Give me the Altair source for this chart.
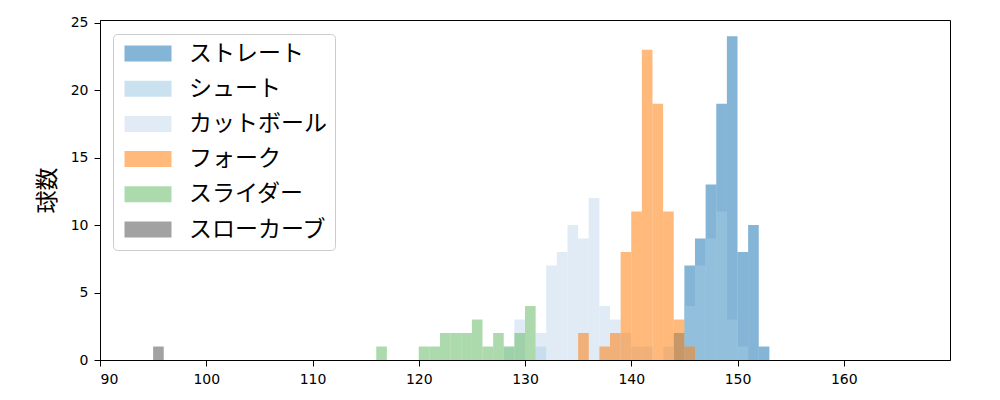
import altair as alt
import pandas as pd

# series: (name, bin starts (km/h, width 1), counts)
straight_bins = [144, 145, 146, 147, 148, 149, 150, 151, 152]
straight_cnt = [2, 7, 9, 13, 19, 24, 8, 10, 1]

shoot_bins = [131, 145, 146, 147, 148, 149, 150]
shoot_cnt = [1, 4, 7, 9, 11, 3, 1]

cut_bins = [128, 129, 131, 132, 133, 134, 135, 136, 137, 138, 139, 140, 141, 143]
cut_cnt = [1, 3, 2, 7, 8, 10, 9, 12, 4, 3, 2, 1, 1, 1]

fork_bins = [135, 137, 138, 139, 140, 141, 142, 143, 144, 145]
fork_cnt = [2, 1, 2, 8, 11, 23, 19, 11, 3, 1]

slider_bins = [116, 120, 121, 122, 123, 124, 125, 126, 127, 128, 129, 130]
slider_cnt = [1, 1, 1, 2, 2, 2, 3, 1, 2, 1, 2, 4]

slowcurve_bins = [95]
slowcurve_cnt = [1]

names = ["ストレート", "シュート", "カットボール", "フォーク", "スライダー", "スローカーブ"]
colors = ["#1f77b4", "#9ecae1", "#c6dbef", "#ff7f0e", "#6abb69", "#555555"]

series = [
    (names[0], straight_bins, straight_cnt),
    (names[1], shoot_bins, shoot_cnt),
    (names[2], cut_bins, cut_cnt),
    (names[3], fork_bins, fork_cnt),
    (names[4], slider_bins, slider_cnt),
    (names[5], slowcurve_bins, slowcurve_cnt),
]

rows = []
for order, (name, bins, cnts) in enumerate(series):
    for b, c in zip(bins, cnts):
        rows.append({"球種": name, "start": b, "count": c, "order": order})
df = pd.DataFrame(rows)

x_ticks = [90, 100, 110, 120, 130, 140, 150, 160]
y_ticks = [0, 5, 10, 15, 20, 25]

chart = (
    alt.Chart(df)
    .transform_calculate(end="datum.start + 1")
    .mark_bar(opacity=0.55)
    .encode(
        x=alt.X(
            "start:Q",
            scale=alt.Scale(domain=[90, 170], nice=False, zero=False),
            axis=alt.Axis(values=x_ticks, title=None, grid=False),
        ),
        x2="end:Q",
        y=alt.Y(
            "count:Q",
            stack=None,
            scale=alt.Scale(domain=[0, 25.2], nice=False),
            axis=alt.Axis(
                values=y_ticks,
                title="球数",
                grid=False,
                titleX=-53,
                titleY=170,
                titleAlign="center",
                titleBaseline="middle",
                titleAngle=270,
            ),
        ),
        y2=alt.datum(0),
        color=alt.Color(
            "球種:N",
            scale=alt.Scale(domain=names, range=colors),
            legend=alt.Legend(
                title=None,
                orient="none",
                legendX=13,
                legendY=14,
                symbolType="M-1,-1L4.875,-1L4.875,1L-1,1Z",
                symbolSize=256,
                symbolOpacity=0.55,
                symbolStrokeWidth=0,
                labelFontSize=23,
                labelFont="Noto Sans CJK JP",
                labelColor="black",
                labelOffset=45,
                rowPadding=11.2,
                padding=8,
                fillColor="white",
                strokeColor="#cccccc",
                cornerRadius=4,
            ),
        ),
        order=alt.Order("order:Q"),
    )
    .properties(width=850, height=340, autosize=alt.AutoSizeParams(type="none"),
                padding={"left": 92, "top": 12, "right": 30, "bottom": 30})
    .configure_view(stroke="black", strokeWidth=1)
    .configure_axis(
        domainColor="black",
        tickColor="black",
        tickSize=6,
        labelFont="DejaVu Sans",
        labelFontSize=14,
        labelColor="black",
        labelPadding=6,
        titleFont="Noto Sans CJK JP",
        titleFontSize=23,
        titleFontWeight="normal",
        titleColor="black",
    )
)

chart.save("out.html", embed_options={"renderer": "svg", "actions": False})
